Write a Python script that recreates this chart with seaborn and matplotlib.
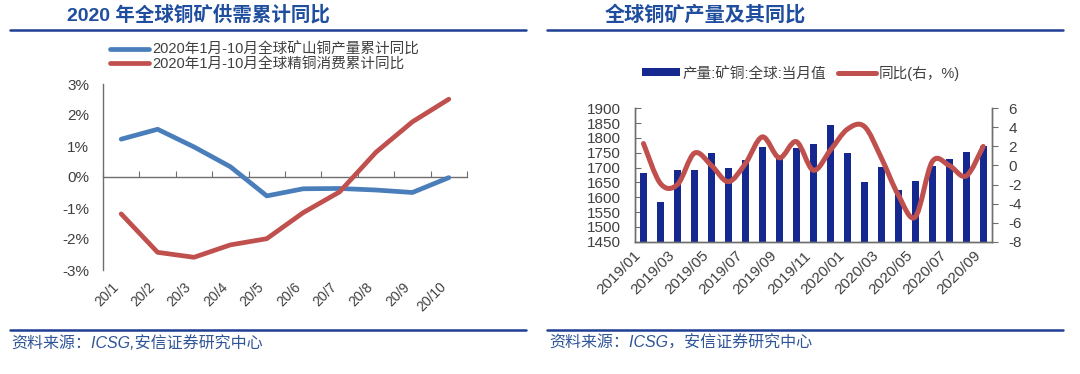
import numpy as np
import pandas as pd
import matplotlib
matplotlib.use("Agg")
import matplotlib.pyplot as plt
import seaborn as sns
from matplotlib.path import Path
from matplotlib.patches import PathPatch, Patch
from matplotlib.lines import Line2D

# ---- left panel: 2020 cumulative yoy ----
months_2020 = ["20/1", "20/2", "20/3", "20/4", "20/5", "20/6", "20/7", "20/8", "20/9", "20/10"]
mine_yoy = [1.22, 1.54, 0.97, 0.33, -0.61, -0.38, -0.37, -0.42, -0.50, -0.02]
refined_yoy = [-1.19, -2.43, -2.59, -2.19, -1.99, -1.15, -0.48, 0.80, 1.78, 2.51]
left_yticks = [-3, -2, -1, 0, 1, 2, 3]

# ---- right panel: monthly mine output and yoy ----
prod_months = ["2019/01", "2019/02", "2019/03", "2019/04", "2019/05", "2019/06", "2019/07",
               "2019/08", "2019/09", "2019/10", "2019/11", "2019/12", "2020/01", "2020/02",
               "2020/03", "2020/04", "2020/05", "2020/06", "2020/07", "2020/08", "2020/09"]
mine_output = [1683, 1585, 1692, 1692, 1750, 1698, 1727, 1771, 1738, 1766, 1778,
               1844, 1750, 1650, 1703, 1624, 1656, 1705, 1728, 1753, 1773]
output_yoy = [2.3, -1.9, -2.0, 1.3, 0.0, -1.7, 0.2, 3.0, 0.8, 2.5, -0.5,
              1.6, 3.8, 4.1, 0.8, -3.1, -5.4, 0.4, 0.0, -1.1, 2.0]
right_left_ticks = list(range(1450, 1901, 50))
right_right_ticks = list(range(-8, 7, 2))

BLUE = "#4A7EBB"
RED = "#C0504D"
NAVY = "#15288F"
TITLE_C = "#1F4E9F"
RULE_C = "#1F3F94"
TXT = "#404040"
AX_C = "#6E6E6E"

sns.set_style("white")
plt.rcParams["font.family"] = ["Liberation Sans", "Noto Sans CJK SC", "DejaVu Sans"]
plt.rcParams["axes.unicode_minus"] = False

W, H = 1080, 374
fig = plt.figure(figsize=(W / 100, H / 100), dpi=100)


def fx(px):
    return px / W


def fy(py):
    return 1 - py / H


def smooth_path(xs, ys):
    # Catmull-Rom style bezier through the data points (Excel smoothed line)
    pts = np.column_stack([xs, ys]).astype(float)
    n = len(pts)
    verts = [pts[0]]
    codes = [Path.MOVETO]
    for i in range(n - 1):
        p0 = pts[max(i - 1, 0)]
        p1 = pts[i]
        p2 = pts[i + 1]
        p3 = pts[min(i + 2, n - 1)]
        verts += [p1 + (p2 - p0) / 6, p2 - (p3 - p1) / 6, p2]
        codes += [Path.CURVE4] * 3
    return Path(verts, codes)


# ================= left panel =================
ax1 = fig.add_axes([fx(103), fy(270), fx(364), 186 / H])
df_left = pd.DataFrame({"pos": np.arange(len(months_2020)),
                        "mine": mine_yoy, "refined": refined_yoy})
sns.lineplot(data=df_left, x="pos", y="mine", ax=ax1, color=BLUE, lw=3.4,
             label="2020年1月-10月全球矿山铜产量累计同比")
sns.lineplot(data=df_left, x="pos", y="refined", ax=ax1, color=RED, lw=3.4,
             label="2020年1月-10月全球精铜消费累计同比")
ax1.set_xlim(-0.5, len(months_2020) - 0.5)
ax1.set_ylim(-3, 3)
ax1.set_xlabel("")
ax1.set_ylabel("")
ax1.set_yticks(left_yticks)
ax1.set_yticklabels([f"{v}%" for v in left_yticks], fontsize=11, color=TXT)
ax1.set_xticks(np.arange(len(months_2020)))
ax1.set_xticklabels(months_2020, rotation=45, ha="right", fontsize=10, color=TXT)
ax1.tick_params(axis="x", length=0, pad=7)
ax1.tick_params(axis="y", direction="in", length=4, color=AX_C, pad=10)
for s in ["top", "right", "bottom"]:
    ax1.spines[s].set_visible(False)
ax1.spines["left"].set_color(AX_C)
ax1.spines["left"].set_linewidth(1)
# zero line carrying the category boundary ticks
sec = ax1.secondary_xaxis(0.5)
sec.set_xticks(np.arange(-0.5, len(months_2020), 1))
sec.tick_params(axis="x", direction="out", length=4, color=AX_C, labeltop=False, labelbottom=False)
for s in ["top", "bottom"]:
    sec.spines[s].set_color(AX_C)
    sec.spines[s].set_linewidth(1)
ax1.legend(loc="upper left", bbox_to_anchor=(fx(110), fy(43)), bbox_transform=fig.transFigure,
           frameon=False, fontsize=10.5, handlelength=2.7, handletextpad=0.2,
           labelspacing=0.0, borderpad=0, borderaxespad=0, labelcolor=TXT)

# ================= right panel =================
ax = fig.add_axes([fx(635), fy(241.7), fx(356.7), 133.4 / H])
df_right = pd.DataFrame({"month": prod_months, "output": mine_output, "yoy": output_yoy})
sns.barplot(data=df_right, x="month", y="output", ax=ax, color=NAVY, width=0.4,
            saturation=1, edgecolor="none")
ax.set_xlim(-0.5, len(prod_months) - 0.5)
ax.set_ylim(1450, 1900)
ax.set_xlabel("")
ax.set_ylabel("")
ax.set_yticks(right_left_ticks)
ax.set_yticklabels([str(v) for v in right_left_ticks], fontsize=11, color=TXT)
ax.set_xticks(np.arange(0, len(prod_months), 2))
ax.set_xticklabels(prod_months[::2], rotation=45, ha="right", fontsize=11, color=TXT)
ax.set_xticks(np.arange(1.5, len(prod_months) - 1, 2), minor=True)
ax.tick_params(axis="x", which="major", length=0, pad=5)
ax.tick_params(axis="x", which="minor", direction="in", length=4, color=AX_C)
ax.tick_params(axis="y", direction="in", length=4, color=AX_C, pad=10)

ax2 = ax.twinx()
ax2.add_patch(PathPatch(smooth_path(np.arange(len(prod_months)), df_right["yoy"].values),
                        fill=False, edgecolor=RED, lw=3.6, capstyle="round", joinstyle="round"))
ax2.set_ylim(-8, 6)
ax2.set_yticks(right_right_ticks)
ax2.set_yticklabels([str(v) for v in right_right_ticks], fontsize=11, color=TXT)
ax2.tick_params(axis="y", direction="out", length=4, color=AX_C, pad=8)
for a in (ax, ax2):
    a.spines["top"].set_visible(False)
    for s in ["left", "right", "bottom"]:
        a.spines[s].set_color(AX_C)
        a.spines[s].set_linewidth(1)
    a.grid(False)

handles = [Patch(facecolor=NAVY, edgecolor="none"), Line2D([], [], color=RED, lw=3.6)]
ax.legend(handles, ["产量:矿铜:全球:当月值", "同比(右，%)"], loc="center left",
          bbox_to_anchor=(fx(642), fy(73)), bbox_transform=fig.transFigure, ncol=2,
          frameon=False, fontsize=10.5, handlelength=2.6, handleheight=0.45,
          handletextpad=0.2, columnspacing=0.8, borderpad=0, borderaxespad=0, labelcolor=TXT)

# ================= titles, rules, footers =================
fig.text(fx(67), fy(15), "2020 年全球铜矿供需累计同比", fontsize=14, fontweight="bold",
         color=TITLE_C, ha="left", va="center")
fig.text(fx(605), fy(15), "全球铜矿产量及其同比", fontsize=14.5, fontweight="bold",
         color=TITLE_C, ha="left", va="center")
for x0, x1 in [(10, 526), (547, 1063)]:
    fig.add_artist(Line2D([fx(x0), fx(x1)], [fy(30), fy(30)], transform=fig.transFigure,
                          color=RULE_C, lw=1.8))
    fig.add_artist(Line2D([fx(x0), fx(x1)], [fy(330), fy(330)], transform=fig.transFigure,
                          color=RULE_C, lw=1.8))
fig.text(fx(11), fy(343), "资料来源：ICSG,安信证券研究中心", fontsize=11.5, style="italic",
         color="#2F5597", ha="left", va="center")
fig.text(fx(549), fy(343), "资料来源：ICSG，安信证券研究中心", fontsize=11.5, style="italic",
         color="#2F5597", ha="left", va="center")

fig.savefig("out.png", dpi=100, facecolor="white")
